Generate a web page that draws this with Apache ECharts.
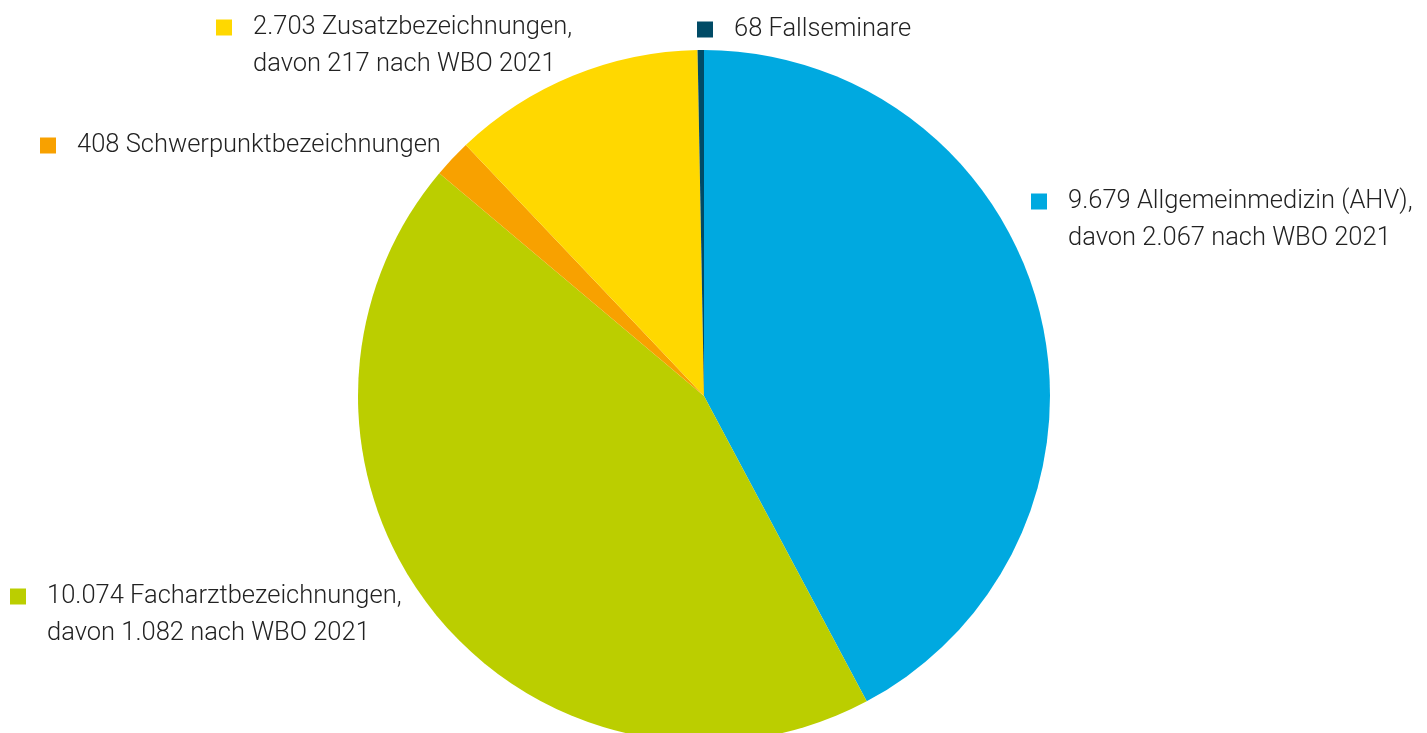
<!DOCTYPE html>
<html>
<head>
<meta charset="utf-8">
<script src="https://cdn.jsdelivr.net/npm/echarts@6/dist/echarts.min.js"></script>
<style>
  html, body { margin: 0; padding: 0; background: #ffffff; }
  #chart { width: 1427px; height: 733px; }
</style>
</head>
<body>
<div id="chart"></div>
<script>
// Anerkennungen nach Art der Bezeichnung
const categories = ['Allgemeinmedizin (AHV)', 'Facharztbezeichnungen', 'Schwerpunktbezeichnungen', 'Zusatzbezeichnungen', 'Fallseminare'];
const values = [9679, 10074, 408, 2703, 68];
const davonWBO2021 = [2067, 1082, null, 217, null];
const colors = ['#00a9e0', '#bbce00', '#f8a100', '#ffd800', '#004b66'];

// label block positions (top-left corner) per slice
const labelPos = [
  { x: 1031, y: 183 },
  { x: 10, y: 578 },
  { x: 40, y: 127 },
  { x: 216, y: 9 },
  { x: 697, y: 11 }
];

function fmt(n) {
  return String(n).replace(/\B(?=(\d{3})+(?!\d))/g, '.');
}

const chart = echarts.init(document.getElementById('chart'), null, { renderer: 'canvas' });

const rich = {
  t: { fontFamily: 'Roboto', fontWeight: 300, fontSize: 25.5, color: '#222222', lineHeight: 37 },
  g: { width: 21, height: 16 },
  ind: { width: 37, height: 16 }
};
colors.forEach(function (c, i) {
  rich['sq' + i] = { width: 16, height: 16, backgroundColor: c };
});

chart.setOption({
  animation: false,
  series: [{
    type: 'pie',
    center: [704, 396],
    radius: [0, 346],
    startAngle: 90,
    clockwise: true,
    silent: true,
    itemStyle: { borderWidth: 0 },
    data: categories.map(function (name, i) {
      return { name: name, value: values[i], itemStyle: { color: colors[i] } };
    }),
    label: {
      show: true,
      position: 'outside',
      overflow: 'none',
      formatter: function (p) {
        const i = p.dataIndex;
        const first = fmt(values[i]) + ' ' + categories[i];
        if (davonWBO2021[i] != null) {
          return '{sq' + i + '|}{g|}{t|' + first + ',}\n{ind|}{t|davon ' + fmt(davonWBO2021[i]) + ' nach WBO 2021}';
        }
        return '{sq' + i + '|}{g|}{t|' + first + '}';
      },
      rich: rich
    },
    labelLine: { show: false },
    labelLayout: function (params) {
      const pos = labelPos[params.dataIndex];
      return { x: pos.x, y: pos.y, align: 'left', verticalAlign: 'top', hideOverlap: false, moveOverlap: false };
    }
  }]
});
</script>
</body>
</html>
